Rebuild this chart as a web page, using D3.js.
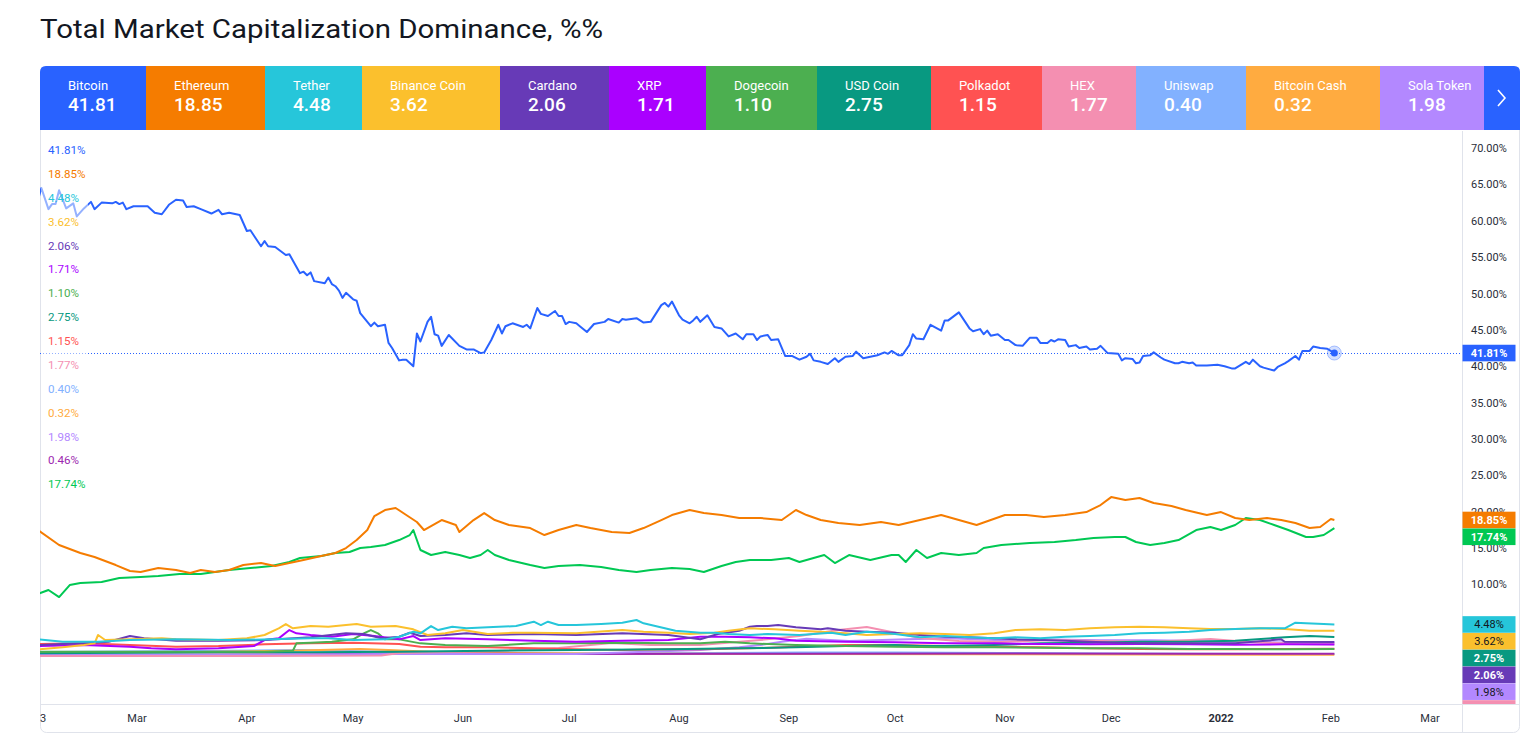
<!DOCTYPE html>
<html><head><meta charset="utf-8">
<script src="https://cdn.jsdelivr.net/npm/d3@7/dist/d3.min.js"></script>
<style>
body{margin:0;background:#fff;}
svg{display:block;font-family:Roboto,"Liberation Sans",sans-serif;}
</style>
</head><body>
<svg id="chart" width="1532" height="734"></svg>
<script>
// ---------------- DATA ----------------
const baseDate = Date.UTC(2021, 1, 1); // day 0 = 1 Feb 2021
const legendNames  = ["Bitcoin","Ethereum","Tether","Binance Coin","Cardano","XRP","Dogecoin","USD Coin","Polkadot","HEX","Uniswap","Bitcoin Cash","Sola Token"];
const legendValues = ["41.81","18.85","4.48","3.62","2.06","1.71","1.10","2.75","1.15","1.77","0.40","0.32","1.98"];
const seriesLabels = ["41.81%","18.85%","4.48%","3.62%","2.06%","1.71%","1.10%","2.75%","1.15%","1.77%","0.40%","0.32%","1.98%","0.46%","17.74%"];
const seriesColors = ["#2962ff","#f57c00","#26c6da","#fbc02d","#673ab7","#aa00ff","#4caf50","#089981","#ff5252","#f48fb1","#82b1ff","#ffab40","#b388ff","#9c27b0","#00c853"];
const badgeTextColors = ["#fff","#fff","#131722","#131722","#fff","#fff","#fff","#fff","#fff","#131722","#131722","#131722","#131722","#fff","#fff"];
const yTicks = [10,15,20,25,30,35,40,45,50,55,60,65,70];
const monthTicks = [["2021-03-01","Mar"],["2021-04-01","Apr"],["2021-05-01","May"],["2021-06-01","Jun"],["2021-07-01","Jul"],["2021-08-01","Aug"],["2021-09-01","Sep"],["2021-10-01","Oct"],["2021-11-01","Nov"],["2021-12-01","Dec"],["2022-01-01","2022"],["2022-02-01","Feb"],["2022-03-01","Mar"]];

const bitcoin = [[0,62.8],[1,64.5],[3,61.6],[4,62.3],[5,62.3],[6,64.2],[8,61.7],[10,62.4],[11,60.6],[13,61.7],[15,62.6],[16,61.6],[18,62.5],[21,62.4],[22,62.6],[23,62.3],[24,62.5],[25,61.6],[27,62.0],[31,62.0],[33,61.1],[35,60.9],[37,62.2],[39,62.9],[41,62.8],[42,61.9],[44,62.0],[46,61.6],[49,61.0],[51,61.5],[52,60.9],[54,61.1],[57,60.8],[58,59.7],[59,58.6],[60,58.7],[63,56.5],[64,57.2],[65,56.5],[67,56.4],[70,55.3],[71,55.4],[74,52.8],[75,53.0],[76,52.5],[77,52.9],[78,51.7],[81,51.4],[82,52.2],[83,51.3],[84,51.0],[85,50.4],[86,49.4],[87,50.1],[89,49.2],[90,49.0],[91,47.3],[94,45.5],[95,46.0],[96,45.5],[98,45.7],[99,43.2],[100,42.5],[102,40.8],[103,40.9],[104,40.9],[106,40.0],[107,44.5],[108,43.4],[110,46.1],[111,46.8],[112,44.4],[113,44.2],[114,42.8],[116,44.3],[119,42.8],[121,42.3],[123,42.3],[125,41.8],[126,41.9],[128,43.6],[130,45.7],[131,44.5],[132,45.5],[134,45.9],[137,45.4],[138,45.7],[139,45.2],[141,48.0],[142,47.2],[144,46.9],[146,47.6],[147,46.9],[148,46.9],[149,45.8],[150,46.1],[152,45.9],[153,45.5],[155,44.7],[157,45.8],[160,46.1],[161,46.5],[164,46.0],[165,46.5],[166,46.4],[169,46.6],[171,46.0],[173,46.1],[176,48.4],[177,48.7],[178,48.2],[179,48.9],[181,47.0],[182,46.4],[184,45.9],[185,46.3],[186,46.8],[187,46.1],[189,47.0],[191,45.4],[193,45.2],[195,44.1],[197,44.5],[199,43.7],[200,44.4],[202,44.4],[203,43.6],[204,44.1],[206,44.3],[207,43.6],[209,43.7],[211,41.4],[213,41.4],[215,40.9],[217,41.3],[218,41.7],[219,40.8],[221,40.6],[223,40.3],[225,41.1],[226,40.6],[228,41.3],[230,41.4],[231,42.0],[233,41.1],[235,41.3],[237,41.5],[239,41.9],[240,41.7],[241,42.1],[243,41.5],[244,41.5],[246,42.9],[247,44.4],[248,43.8],[250,43.7],[252,45.7],[255,44.9],[256,46.3],[257,46.3],[260,47.4],[263,45.2],[264,44.8],[266,45.1],[267,44.4],[268,44.9],[269,44.2],[271,44.4],[273,43.6],[274,43.6],[276,42.9],[278,42.8],[280,43.9],[282,43.9],[283,43.2],[285,43.2],[286,43.6],[287,43.4],[288,43.7],[290,43.6],[291,42.7],[293,42.9],[294,42.5],[296,42.7],[297,42.3],[299,42.4],[300,42.8],[302,41.8],[305,41.7],[306,40.8],[307,41.1],[309,41.0],[310,40.4],[311,40.5],[312,41.4],[314,41.5],[315,41.9],[317,41.2],[318,40.9],[321,40.4],[322,40.4],[323,40.6],[325,40.4],[326,40.5],[327,40.1],[330,40.1],[333,40.2],[335,40.0],[337,39.7],[338,39.7],[341,40.6],[342,40.3],[343,40.9],[345,40.0],[346,39.8],[349,39.4],[350,39.9],[352,40.4],[353,40.7],[355,41.4],[356,40.9],[357,42.1],[359,42.1],[360,42.7],[362,42.5],[364,42.4],[366,41.81]];
const ethereum = [[0,17.47],[6,15.41],[12,14.31],[16,13.76],[22,12.65],[26,11.83],[29,11.69],[34,12.24],[39,11.97],[43,11.55],[46,11.97],[50,11.69],[54,11.97],[58,12.65],[63,12.93],[67,12.52],[71,12.93],[75,13.34],[80,13.89],[84,14.31],[87,14.99],[90,16.09],[93,17.47],[95,19.39],[98,20.22],[101,20.5],[104,19.53],[107,18.57],[109,17.47],[114,18.84],[118,18.16],[119,17.19],[123,18.84],[126,19.8],[129,18.84],[133,18.16],[139,17.74],[143,16.78],[147,17.47],[152,18.16],[156,17.74],[162,17.19],[167,17.06],[171,17.74],[176,18.84],[179,19.53],[184,20.22],[188,19.8],[193,19.53],[198,19.12],[204,19.12],[210,18.84],[214,20.22],[217,19.53],[221,18.84],[226,18.43],[232,18.16],[238,18.57],[243,18.16],[249,18.84],[255,19.53],[260,18.84],[265,18.16],[269,18.84],[273,19.53],[279,19.53],[284,19.26],[290,19.53],[296,19.94],[300,20.9],[303,22.0],[307,21.6],[311,21.87],[315,21.18],[320,20.77],[324,20.22],[330,19.53],[334,19.94],[338,19.12],[342,18.84],[347,19.12],[351,18.84],[355,18.43],[359,17.74],[362,17.88],[365,18.98],[366,18.85]];
const tether = [[0,2.43],[7,2.10],[17,2.10],[26,2.34],[39,2.43],[54,2.34],[66,2.43],[77,2.57],[82,2.57],[89,2.34],[98,2.43],[102,2.79],[106,3.48],[108,3.26],[111,4.26],[113,3.71],[117,4.17],[121,3.95],[127,4.09],[135,4.26],[140,4.86],[142,4.40],[144,4.86],[147,4.40],[152,4.40],[159,4.54],[165,4.72],[169,5.09],[171,4.64],[180,3.62],[187,3.34],[191,3.34],[195,3.16],[201,3.03],[206,3.16],[215,3.03],[219,3.16],[224,3.34],[228,3.03],[234,3.48],[242,3.16],[249,2.71],[256,2.89],[263,2.71],[270,2.57],[276,2.71],[283,2.57],[290,2.79],[297,2.89],[304,3.03],[311,3.26],[318,3.34],[325,3.48],[331,3.71],[338,3.85],[345,3.95],[352,3.95],[355,4.72],[358,4.64],[363,4.54],[366,4.48]];
const binanceCoin = [[0,1.06],[7,1.33],[13,1.65],[16,1.88],[17,3.03],[19,2.34],[26,2.43],[35,2.57],[39,2.43],[51,2.34],[59,2.57],[64,3.03],[68,3.95],[70,4.54],[72,3.95],[77,4.26],[82,4.17],[87,4.40],[90,4.54],[94,4.17],[101,4.26],[106,3.81],[110,3.03],[115,3.26],[120,3.71],[127,3.16],[134,3.34],[140,3.34],[152,3.26],[165,3.71],[171,3.48],[178,3.34],[184,3.16],[191,3.34],[195,3.62],[201,3.95],[208,3.81],[215,3.62],[221,3.48],[228,3.26],[234,3.03],[242,3.16],[249,3.26],[256,3.16],[263,3.03],[270,3.26],[276,3.71],[283,3.81],[290,3.71],[297,3.95],[304,4.09],[311,4.17],[318,4.09],[325,3.95],[331,3.85],[338,3.85],[345,3.95],[352,3.85],[359,3.62],[366,3.62]];
const cardano = [[0,1.65],[7,1.79],[13,1.88],[20,2.10],[26,2.89],[30,2.57],[39,2.24],[51,2.24],[64,2.34],[77,2.71],[87,3.26],[92,3.16],[97,2.57],[102,2.79],[105,3.34],[108,2.89],[115,3.03],[121,3.26],[127,3.03],[140,3.16],[152,3.03],[165,3.26],[178,3.03],[187,2.45],[192,3.16],[198,3.62],[201,4.17],[203,4.26],[206,4.26],[209,4.40],[214,4.09],[221,3.81],[223,3.95],[228,3.62],[234,3.48],[242,3.34],[249,3.03],[256,2.79],[263,2.71],[270,2.57],[276,2.43],[283,2.34],[290,2.24],[297,2.10],[304,1.97],[311,1.88],[325,1.88],[338,1.88],[351,2.43],[352,2.10],[366,2.06]];
const xrp = [[0,1.51],[13,1.65],[26,1.42],[32,1.20],[39,1.06],[51,1.20],[61,1.51],[64,2.34],[68,2.57],[71,3.71],[73,3.26],[77,3.03],[83,2.79],[89,3.16],[95,2.89],[102,2.43],[106,2.89],[108,2.34],[115,2.57],[127,2.43],[140,2.24],[152,2.10],[165,2.24],[178,2.34],[187,2.79],[194,2.79],[201,2.71],[208,2.57],[214,2.24],[228,2.10],[242,2.02],[256,1.88],[270,1.88],[283,1.79],[297,1.75],[311,1.79],[325,1.75],[338,1.69],[352,1.75],[366,1.71]];
const dogecoin = [[0,0.73],[26,0.73],[51,0.73],[64,0.73],[72,0.87],[73,1.88],[77,1.97],[83,2.10],[89,2.43],[92,3.26],[94,3.71],[96,3.26],[98,2.43],[102,2.43],[108,1.88],[115,1.65],[127,1.51],[140,1.88],[152,1.88],[165,1.97],[178,1.88],[187,1.88],[194,2.10],[201,1.88],[214,1.65],[228,1.51],[242,1.42],[256,1.33],[270,1.33],[283,1.28],[297,1.20],[311,1.20],[325,1.10],[338,1.10],[352,1.06],[366,1.10]];
const usdCoin = [[0,0.51],[26,0.59],[51,0.65],[77,0.65],[102,0.73],[127,0.87],[152,0.96],[178,1.06],[198,1.20],[214,1.33],[228,1.51],[242,1.65],[249,1.51],[256,1.51],[270,1.65],[283,1.88],[297,1.97],[311,2.10],[325,2.10],[338,2.24],[352,2.71],[359,2.89],[366,2.75]];
const polkadot = [[0,1.79],[13,1.88],[26,1.65],[39,1.42],[51,1.51],[64,1.75],[77,1.88],[89,1.97],[102,1.79],[108,1.42],[115,1.33],[127,1.33],[140,1.20],[152,1.06],[165,0.96],[178,1.06],[187,1.06],[201,1.20],[214,1.42],[228,1.65],[242,1.65],[256,1.51],[270,1.42],[283,1.33],[297,1.20],[311,1.10],[325,1.06],[338,1.06],[352,1.10],[366,1.15]];
const hex = [[0,0.14],[60,0.14],[97,0.21],[102,0.55],[130,0.83],[147,1.24],[162,1.93],[173,1.65],[187,1.65],[204,2.34],[215,2.89],[226,3.71],[234,4.13],[241,3.44],[249,2.61],[260,2.20],[272,2.06],[286,2.34],[300,2.20],[314,2.06],[331,2.48],[342,2.06],[356,1.79],[366,1.77]];
const uniswap = [[0,0.69],[46,0.83],[74,0.96],[102,0.69],[116,0.55],[159,0.48],[215,0.62],[243,0.62],[272,0.55],[300,0.48],[366,0.40]];
const bitcoinCash = [[0,0.69],[46,0.69],[74,0.89],[91,1.10],[99,0.96],[116,0.62],[159,0.48],[215,0.41],[272,0.37],[366,0.32]];
const solaToken = [[0,0.28],[51,0.28],[102,0.41],[152,0.41],[187,0.96],[198,1.33],[204,1.65],[210,2.10],[217,2.50],[229,2.20],[243,2.40],[257,2.60],[272,2.30],[286,2.40],[300,2.30],[314,2.30],[328,2.20],[351,2.00],[366,1.98]];
const purpleSeries = [[0,0.30],[74,0.35],[102,0.50],[152,0.40],[215,0.45],[272,0.50],[328,0.45],[366,0.46]];
const greenSeries = [[0,8.67],[3,9.22],[6,8.25],[9,9.90],[12,10.18],[18,10.32],[23,10.87],[29,11.0],[34,11.14],[40,11.42],[46,11.42],[50,11.69],[54,11.97],[60,12.24],[66,12.52],[71,13.07],[74,13.62],[80,13.89],[84,14.31],[88,14.44],[91,14.99],[94,15.13],[98,15.41],[102,16.09],[105,16.78],[106,17.47],[108,14.72],[111,14.03],[115,14.44],[119,14.03],[122,13.62],[125,14.03],[127,14.72],[129,14.03],[133,13.34],[139,12.65],[143,12.24],[147,12.52],[153,12.65],[159,12.38],[164,11.97],[169,11.69],[173,11.97],[179,12.24],[184,12.10],[188,11.69],[193,12.52],[197,13.07],[201,13.34],[207,13.34],[212,13.62],[215,13.07],[219,13.62],[222,14.03],[225,12.93],[229,14.03],[235,13.34],[241,14.03],[243,14.03],[245,13.07],[248,14.72],[251,13.62],[255,14.31],[260,14.03],[265,14.31],[267,14.99],[272,15.41],[280,15.68],[287,15.82],[293,16.09],[298,16.37],[304,16.51],[307,16.51],[310,15.82],[314,15.41],[318,15.68],[322,16.09],[327,17.47],[331,17.88],[334,17.47],[338,18.16],[341,19.12],[345,18.84],[349,18.16],[353,17.47],[358,16.51],[360,16.51],[363,16.78],[366,17.74]];

const seriesData = [bitcoin, ethereum, tether, binanceCoin, cardano, xrp, dogecoin, usdCoin, polkadot, hex, uniswap, bitcoinCash, solaToken, purpleSeries, greenSeries];

// ---------------- LAYOUT ----------------
const svg = d3.select("#chart");
const P = {left:40, right:1462, top:131, bottom:704};
const toDate = d => new Date(baseDate + d * 864e5);
const x = d3.scaleUtc()
  .domain([new Date(Date.UTC(2021,1,1,14,38)), new Date(Date.UTC(2022,2,10,0,43))])
  .range([P.left, P.right]);
const y = d3.scaleLinear().domain([-6.46, 72.35]).range([P.bottom, P.top]);

const defs = svg.append("defs");
defs.append("clipPath").attr("id","plotClip").append("rect")
  .attr("x",P.left).attr("y",P.top).attr("width",P.right-P.left).attr("height",P.bottom-P.top);
defs.append("clipPath").attr("id","axisClip").append("rect")
  .attr("x",P.right).attr("y",P.top).attr("width",70).attr("height",P.bottom-P.top);

// title
svg.append("text").attr("x",40).attr("y",38)
  .attr("font-size",26).attr("fill","#131722")
  .attr("textLength",563).attr("lengthAdjust","spacingAndGlyphs")
  .text("Total Market Capitalization Dominance, %%");

// frame
svg.append("rect").attr("x",40.5).attr("y",66.5).attr("width",1479).attr("height",666)
  .attr("rx",6).attr("fill","#fff").attr("stroke","#e0e3eb");

// legend bar
const cellWidths = [106,119,97,138,109,97,111,114,111,94,110,134,104];
let cx = 40;
const cells = legendNames.map((n,i)=>{ const c={name:n,value:legendValues[i],color:seriesColors[i],x:cx,w:cellWidths[i]}; cx+=cellWidths[i]; return c;});
const legendClip = defs.append("clipPath").attr("id","legendClip");
legendClip.append("path").attr("d",
  `M40,130 L40,72 Q40,66 46,66 L1514,66 Q1520,66 1520,72 L1520,130 Z`);
const lg = svg.append("g").attr("clip-path","url(#legendClip)");
lg.selectAll("rect.cell").data(cells).join("rect")
  .attr("x",d=>d.x).attr("y",66).attr("width",d=>d.w+0.5).attr("height",64)
  .attr("fill",d=>d.color);
lg.append("rect").attr("x",cx).attr("y",66).attr("width",1520-cx).attr("height",64).attr("fill","#2962ff");
lg.selectAll("text.name").data(cells).join("text")
  .attr("x",d=>d.x+28).attr("y",90).attr("font-size",13).attr("fill","#fff")
  .text(d=>d.name);
lg.selectAll("text.val").data(cells).join("text")
  .attr("x",d=>d.x+28).attr("y",111).attr("font-size",19).attr("font-weight",500).attr("fill","#fff")
  .text(d=>d.value);
svg.append("path").attr("d",`M${cx+14},90 L${cx+21},98 L${cx+14},106`)
  .attr("fill","none").attr("stroke","#fff").attr("stroke-width",1.6);

// axes borders
svg.append("line").attr("x1",P.right+0.5).attr("x2",P.right+0.5).attr("y1",P.top).attr("y2",733).attr("stroke","#e0e3eb");
svg.append("line").attr("x1",40).attr("x2",1520).attr("y1",P.bottom+0.5).attr("y2",P.bottom+0.5).attr("stroke","#e0e3eb");

// right axis labels
const yAxis = svg.append("g").attr("transform",`translate(${P.right},0)`)
  .call(d3.axisRight(y).tickValues(yTicks).tickSize(0).tickPadding(9).tickFormat(d=>d3.format(".2f")(d)+"%"));
yAxis.select(".domain").remove();
yAxis.selectAll("text").attr("font-size",11).attr("fill","#2a2e39").attr("font-family","Roboto,sans-serif");

// time axis
const tg = svg.append("g");
tg.selectAll("text").data(monthTicks).join("text")
  .attr("x",d=>x(new Date(d[0]+"T00:00:00Z"))).attr("y",722)
  .attr("text-anchor","middle").attr("font-size",11)
  .attr("font-weight",d=>d[1]==="2022"?700:400)
  .attr("fill","#2a2e39").text(d=>d[1]);
tg.append("text").attr("x",40).attr("y",722).attr("font-size",11).attr("fill","#2a2e39").text("3");

// lines
const line = d3.line().x(d=>x(toDate(d[0]))).y(d=>y(d[1]));
const plotG = svg.append("g").attr("clip-path","url(#plotClip)");
const drawOrder = [10,11,13,12,9,8,7,6,5,4,3,2,14,1,0];
drawOrder.forEach(i=>{
  plotG.append("path").datum(seriesData[i]).attr("d",line)
    .attr("fill","none").attr("stroke",seriesColors[i]).attr("stroke-width",2)
    .attr("stroke-linejoin","round");
});

// bitcoin price line
const btcLast = bitcoin[bitcoin.length-1];
plotG.append("line").attr("x1",P.left).attr("x2",P.right)
  .attr("y1",Math.round(y(btcLast[1]))+0.5).attr("y2",Math.round(y(btcLast[1]))+0.5)
  .attr("stroke","#2962ff").attr("stroke-width",1).attr("stroke-dasharray","1,2");
plotG.append("circle").attr("cx",x(toDate(btcLast[0]))).attr("cy",y(btcLast[1])).attr("r",7)
  .attr("fill","rgba(41,98,255,0.2)").attr("stroke","rgba(41,98,255,0.35)");
plotG.append("circle").attr("cx",x(toDate(btcLast[0]))).attr("cy",y(btcLast[1])).attr("r",3.5)
  .attr("fill","#2962ff");

// left labels with translucent backdrop
svg.append("rect").attr("x",41).attr("y",138).attr("width",47).attr("height",356)
  .attr("fill","#fff").attr("opacity",0.5);
svg.append("g").selectAll("text").data(seriesLabels).join("text")
  .attr("x",48).attr("y",(d,i)=>154+i*23.88).attr("font-size",11.6)
  .attr("fill",(d,i)=>seriesColors[i]).text(d=>d);

// right badges
const badges = seriesData.map((s,i)=>({v:s[s.length-1][1], label:seriesLabels[i], color:seriesColors[i], tc:badgeTextColors[i]}))
  .sort((a,b)=>b.v-a.v);
let prev = -Infinity;
badges.forEach(b=>{ b.cy = Math.max(y(b.v), prev+16.8); prev=b.cy; });
const bg = svg.append("g").attr("clip-path","url(#axisClip)");
bg.selectAll("rect").data(badges).join("rect")
  .attr("x",P.right+0.5).attr("y",d=>d.cy-8.3).attr("width",53).attr("height",16.6)
  .attr("fill",d=>d.color);
bg.selectAll("text").data(badges.filter(d=>d.cy+6 < P.bottom)).join("text")
  .attr("x",P.right+27).attr("y",d=>d.cy+4).attr("text-anchor","middle")
  .attr("font-size",11).attr("font-weight",d=>d.tc==="#fff"?700:400).attr("fill",d=>d.tc).text(d=>d.label);
</script>
</body></html>
